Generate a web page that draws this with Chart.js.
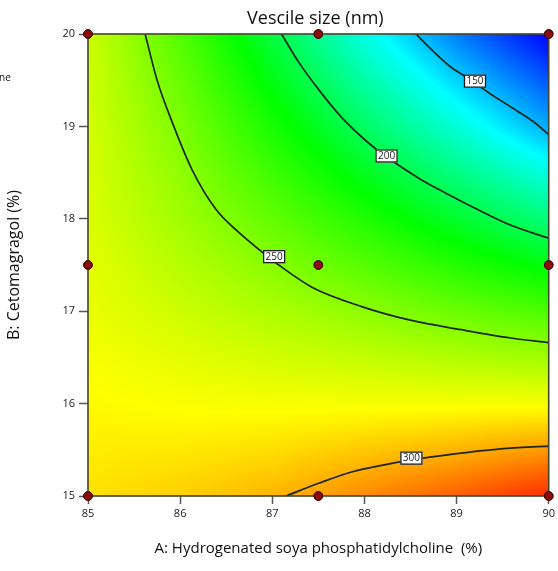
<!DOCTYPE html>
<html>
<head>
<meta charset="utf-8">
<script src="https://cdn.jsdelivr.net/npm/chart.js@4"></script>
<style>
  html, body { margin: 0; padding: 0; background: #fff; }
  #wrap { width: 558px; height: 571px; }
</style>
</head>
<body>
<div id="wrap"><canvas id="chart" width="558" height="571"></canvas></div>
<script>
// factor levels
const A_VALUES = [85, 86, 87, 88, 89, 90];
const B_VALUES = [15, 16, 17, 18, 19, 20];

const SIZE_GRID = [
  [288, 292, 298, 308, 318, 330],
  [282, 280, 279, 279, 279, 279],
  [276, 268, 260, 252, 243, 235],
  [272, 257, 241, 224, 207, 191],
  [270, 248, 222, 196, 172, 148],
  [268, 237, 203, 169, 140, 117]
];
// sizes where the ramp hits blue, cyan, green, yellow, red
const RAMP_STOPS = [117, 164, 216, 281, 340];

// contour lines
const C150_A = [88.56, 88.73, 88.94, 89.13, 89.34, 89.59, 89.85, 90.0];
const C150_B = [20.0, 19.83, 19.64, 19.52, 19.37, 19.21, 19.04, 18.91];
const C200_A = [87.10, 87.29, 87.51, 87.75, 88.01, 88.21, 88.37, 88.62, 88.88, 89.23, 89.59, 90.0];
const C200_B = [20.0, 19.69, 19.39, 19.10, 18.85, 18.69, 18.58, 18.42, 18.28, 18.10, 17.93, 17.79];
const C250_A = [85.62, 85.75, 85.92, 86.13, 86.39, 86.64, 86.89, 87.07, 87.43, 87.97, 88.51, 89.05, 89.59, 90.0];
const C250_B = [20.0, 19.50, 19.03, 18.53, 18.10, 17.85, 17.64, 17.50, 17.26, 17.05, 16.90, 16.80, 16.71, 16.66];
const C300_A = [87.15, 87.51, 87.86, 88.23, 88.51, 88.94, 89.48, 90.0];
const C300_B = [15.0, 15.14, 15.26, 15.34, 15.39, 15.45, 15.51, 15.54];

const LEVELS = ['150', '200', '250', '300'];
const LABEL_A = [89.20, 88.24, 87.02, 88.51];
const LABEL_B = [19.49, 18.68, 17.59, 15.41];

// design points
const POINT_A = [85, 87.5, 90, 85, 87.5, 90, 85, 87.5, 90];
const POINT_B = [20, 20, 20, 17.5, 17.5, 17.5, 15, 15, 15];

const FONT = "'Open Sans', 'Noto Sans', sans-serif";

function zip(xs, ys) {
  return xs.map((x, i) => ({ x: x, y: ys[i] }));
}

function sizeAt(a, b) {
  let i = 0, j = 0;
  while (i < A_VALUES.length - 2 && a > A_VALUES[i + 1]) i++;
  while (j < B_VALUES.length - 2 && b > B_VALUES[j + 1]) j++;
  const tx = Math.min(1, Math.max(0, (a - A_VALUES[i]) / (A_VALUES[i + 1] - A_VALUES[i])));
  const ty = Math.min(1, Math.max(0, (b - B_VALUES[j]) / (B_VALUES[j + 1] - B_VALUES[j])));
  const v00 = SIZE_GRID[j][i], v10 = SIZE_GRID[j][i + 1];
  const v01 = SIZE_GRID[j + 1][i], v11 = SIZE_GRID[j + 1][i + 1];
  return (v00 * (1 - tx) + v10 * tx) * (1 - ty) + (v01 * (1 - tx) + v11 * tx) * ty;
}

// blue - cyan - green - yellow - red
const RAMP = [[0, 0, 255], [0, 255, 255], [0, 255, 0], [255, 255, 0], [255, 0, 0]];
function colourFor(v) {
  let k = 0;
  while (k < RAMP_STOPS.length - 2 && v > RAMP_STOPS[k + 1]) k++;
  let f = (v - RAMP_STOPS[k]) / (RAMP_STOPS[k + 1] - RAMP_STOPS[k]);
  f = Math.min(1, Math.max(0, f));
  const c0 = RAMP[k], c1 = RAMP[k + 1];
  return [0, 1, 2].map(n => Math.round(c0[n] + (c1[n] - c0[n]) * f));
}

// paint the response surface under the lines
const surfacePlugin = {
  id: 'surface',
  beforeDatasetsDraw(chart) {
    const { ctx, chartArea, scales } = chart;
    const w = Math.round(chartArea.right - chartArea.left);
    const h = Math.round(chartArea.bottom - chartArea.top);
    const off = document.createElement('canvas');
    off.width = w; off.height = h;
    const octx = off.getContext('2d');
    const img = octx.createImageData(w, h);
    for (let py = 0; py < h; py++) {
      const b = scales.y.getValueForPixel(chartArea.top + py + 0.5);
      for (let px = 0; px < w; px++) {
        const a = scales.x.getValueForPixel(chartArea.left + px + 0.5);
        const c = colourFor(sizeAt(a, b));
        const p = (py * w + px) * 4;
        img.data[p] = c[0]; img.data[p + 1] = c[1]; img.data[p + 2] = c[2]; img.data[p + 3] = 255;
      }
    }
    octx.putImageData(img, 0, 0);
    ctx.drawImage(off, chartArea.left, chartArea.top);
  },
  afterDatasetsDraw(chart) {
    const { ctx, chartArea, scales } = chart;
    // frame
    ctx.save();
    ctx.strokeStyle = '#45452a';
    ctx.lineWidth = 1.6;
    ctx.strokeRect(chartArea.left, chartArea.top, chartArea.right - chartArea.left, chartArea.bottom - chartArea.top);
    // contour labels
    ctx.font = '10px ' + FONT;
    ctx.textAlign = 'center';
    ctx.textBaseline = 'middle';
    LEVELS.forEach((txt, i) => {
      const x = scales.x.getPixelForValue(LABEL_A[i]);
      const y = scales.y.getPixelForValue(LABEL_B[i]);
      const bw = 22, bh = 13;
      ctx.fillStyle = '#fff';
      ctx.fillRect(x - bw / 2, y - bh / 2, bw, bh);
      ctx.strokeStyle = '#1a1a1a';
      ctx.lineWidth = 1.3;
      ctx.strokeRect(x - bw / 2 + 0.5, y - bh / 2 + 0.5, bw - 1, bh - 1);
      ctx.fillStyle = '#222';
      ctx.fillText(txt, x, y + 0.5);
    });
    ctx.restore();
    // redraw design points over the frame
    chart.getDatasetMeta(4).controller.draw();
  },
  afterDraw(chart) {
    const { ctx, chartArea } = chart;
    ctx.save();
    ctx.fillStyle = '#111';
    ctx.font = '18px ' + FONT;
    ctx.textAlign = 'center';
    ctx.textBaseline = 'middle';
    ctx.fillText('Vescile size (nm)', (chartArea.left + chartArea.right) / 2 - 3, 19);
    // clipped legend text at the left edge
    ctx.font = '10px ' + FONT;
    ctx.textAlign = 'left';
    ctx.fillText('ne', -1, 78);
    ctx.restore();
  }
};

function contour(a, b) {
  return {
    type: 'scatter',
    data: zip(a, b),
    showLine: true,
    borderColor: '#1c261a',
    borderWidth: 1.7,
    pointRadius: 0,
    cubicInterpolationMode: 'monotone',
    clip: 0
  };
}

new Chart(document.getElementById('chart'), {
  type: 'scatter',
  data: {
    datasets: [
      contour(C150_A, C150_B),
      contour(C200_A, C200_B),
      contour(C250_A, C250_B),
      contour(C300_A, C300_B),
      {
        data: zip(POINT_A, POINT_B),
        pointRadius: 4.3,
        pointBackgroundColor: '#8e0b0b',
        pointBorderColor: '#3a0505',
        pointBorderWidth: 1,
        clip: false
      }
    ]
  },
  options: {
    responsive: false,
    animation: false,
    layout: { padding: { top: 34, right: 6, left: 0, bottom: 0 } },
    plugins: { legend: { display: false }, tooltip: { enabled: false } },
    scales: {
      x: {
        type: 'linear',
        min: 85, max: 90,
        ticks: { stepSize: 1, color: '#222', font: { family: FONT, size: 11 }, padding: 3 },
        grid: { drawOnChartArea: false, tickLength: 8, tickColor: '#555', tickWidth: 1.5 },
        border: { display: false },
        title: {
          display: true,
          text: 'A: Hydrogenated soya phosphatidylcholine  (%)',
          color: '#111',
          font: { family: FONT, size: 15 },
          padding: { top: 0, bottom: 13 }
        },
        afterFit(scale) { scale.height = 75; }
      },
      y: {
        type: 'linear',
        min: 15, max: 20,
        ticks: { stepSize: 1, color: '#222', font: { family: FONT, size: 11 }, padding: 4 },
        grid: { drawOnChartArea: false, tickLength: 9, tickColor: '#555', tickWidth: 1.5 },
        border: { display: false },
        title: {
          display: true,
          text: 'B: Cetomagragol (%)',
          color: '#111',
          font: { family: FONT, size: 16 },
          padding: { top: 5, bottom: 0 }
        },
        afterFit(scale) { scale.width = 88; }
      }
    }
  },
  plugins: [surfacePlugin]
});
</script>
</body>
</html>
